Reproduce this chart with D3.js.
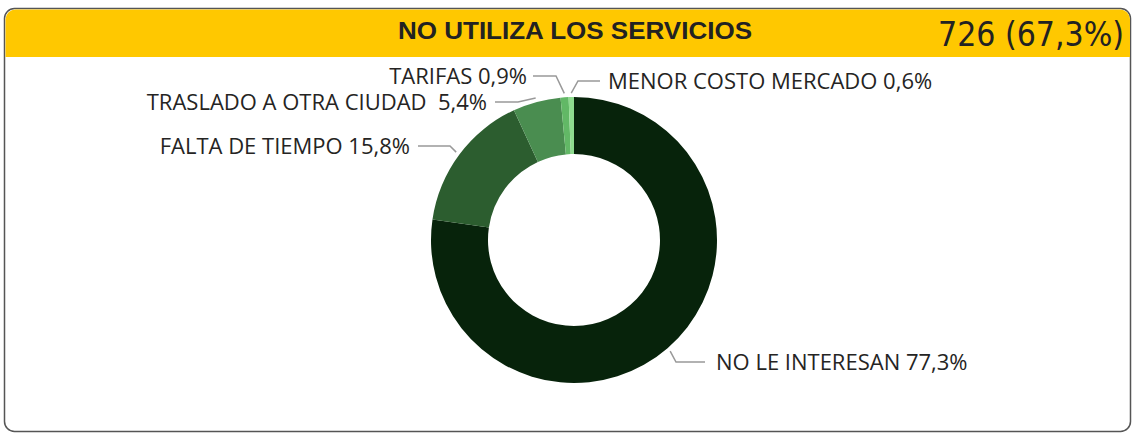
<!DOCTYPE html>
<html><head><meta charset="utf-8">
<script src="https://cdn.jsdelivr.net/npm/d3@7"></script>
<style>body{margin:0;background:#fff;}svg{display:block;}</style>
</head><body>
<svg id="c" width="1135" height="434"></svg>
<script>
const title = "NO UTILIZA LOS SERVICIOS";
const kpi = "726 (67,3%)";
const categories = ["NO LE INTERESAN","FALTA DE TIEMPO","TRASLADO A OTRA CIUDAD\u00A0","TARIFAS","MENOR COSTO MERCADO"];
const values = [77.3, 15.8, 5.4, 0.9, 0.6];
const valueLabels = ["77,3%","15,8%","5,4%","0,9%","0,6%"];
const colors = ["#07230B","#2C5D2F","#4A8D50","#62B866","#8EDB8E"];

const svg = d3.select("#c");
// card
svg.append("rect").attr("x",4.5).attr("y",8.5).attr("width",1126).attr("height",423).attr("rx",10)
  .attr("fill","#fff").attr("stroke","#555").attr("stroke-width",1.5);
svg.append("path").attr("d","M5.5,57 V19 A10,10 0 0 1 15.5,9.5 H1120 A10,10 0 0 1 1130,19 V57 Z").attr("fill","#FFC800");
svg.append("text").attr("x",398).attr("y",39)
  .attr("font-family","Liberation Sans, Arial, sans-serif").attr("font-weight","bold")
  .attr("font-size",23).attr("fill","#222")
  .attr("textLength",354).attr("lengthAdjust","spacingAndGlyphs").text(title);
svg.append("text").attr("x",938).attr("y",46)
  .attr("font-family","DejaVu Sans Condensed, Liberation Sans, sans-serif")
  .attr("font-size",33).attr("fill","#222")
  .attr("textLength",186).attr("lengthAdjust","spacingAndGlyphs").text(kpi);

const cx = 574, cy = 240, R = 143, r = 86;
const pie = d3.pie().sort(null).value(d=>d)(values);
const arc = d3.arc().innerRadius(r).outerRadius(R);
const g = svg.append("g").attr("transform",`translate(${cx},${cy})`);
g.selectAll("path.s").data(pie).join("path").attr("class","s").attr("d",arc)
  .attr("fill",(d,i)=>colors[i]);

const outer = d3.arc().innerRadius(R+4).outerRadius(R+4);
const labelPos = [
  {elbow:[676-cx, 362-cy], end:[705-cx,362-cy], tx:716-cx, anchor:"start"},
  {elbow:[450-cx,146-cy], end:[418-cx,146-cy], tx:410-cx, anchor:"end"},
  {elbow:[518-cx,102-cy], end:[495-cx,102-cy], tx:487-cx, anchor:"end"},
  {elbow:[556-cx,76-cy], end:[533-cx,76-cy], tx:527-cx, anchor:"end"},
  {elbow:[578-cx,81-cy], end:[600-cx,81-cy], tx:608-cx, anchor:"start"}
];
pie.forEach((d,i)=>{
  const p = outer.centroid(d), L = labelPos[i];
  g.append("polyline").attr("points",[p,L.elbow,L.end].map(q=>q.join(",")).join(" "))
    .attr("fill","none").attr("stroke","#999").attr("stroke-width",1.5);
  g.append("text").attr("x",L.tx).attr("y",L.end[1]).attr("dy","0.35em")
    .attr("text-anchor",L.anchor).attr("font-family","Open Sans, sans-serif")
    .attr("font-size",22).attr("fill","#252423").text(categories[i]+" "+valueLabels[i]);
});
</script>
</body></html>
